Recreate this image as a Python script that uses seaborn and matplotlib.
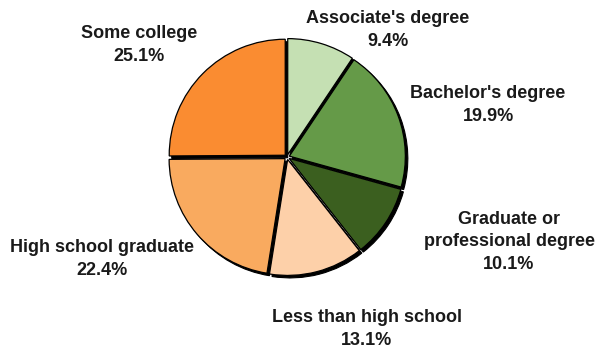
import matplotlib
matplotlib.use("Agg")
import matplotlib.pyplot as plt
import seaborn as sns

sns.set_theme(style="white")
plt.rcParams["font.family"] = ["Liberation Sans", "DejaVu Sans"]

# Educational attainment shares (percent), clockwise from the top
categories = [
    "Associate's degree",
    "Bachelor's degree",
    "Graduate or\nprofessional degree",
    "Less than high school",
    "High school graduate",
    "Some college",
]
shares = [9.4, 19.9, 10.1, 13.1, 22.4, 25.1]
colors = ["#C5E0B3", "#659A48", "#3B5F1F", "#FDD0A9", "#F9AA5F", "#FA8C31"]

# label anchor positions in figure pixels (x, y from top)
label_pos = [(388, 30), (488, 105), (509, 242), (367, 329), (102, 259), (139, 45)]

W, H = 595, 349
fig = plt.figure(figsize=(W / 100, H / 100), dpi=100)
ax = fig.add_axes([0, 0, 1, 1])

cx, cy, r = 287, H - 157, 116
explode = [2.5] * len(shares)

# dark drop shadow under each slice
ax.pie(shares, radius=r, center=(cx + 2.5, cy - 2.5), startangle=90,
       counterclock=False, explode=explode, colors=["black"] * len(shares),
       wedgeprops=dict(linewidth=0.8, edgecolor="black"), frame=True)
ax.pie(shares, radius=r, center=(cx, cy), startangle=90,
       counterclock=False, explode=explode, colors=colors,
       wedgeprops=dict(linewidth=0.9, edgecolor="black"), frame=True)
ax.set_xlim(0, W)
ax.set_ylim(0, H)
ax.set_aspect("equal")
ax.axis("off")

for name, val, (px, py) in zip(categories, shares, label_pos):
    ax.text(px, H - py, f"{name}\n{val:.1f}%", ha="center", va="center",
            fontsize=13, fontweight="bold", color="#1a1a1a", linespacing=1.45)

fig.savefig("out.png", dpi=100)
